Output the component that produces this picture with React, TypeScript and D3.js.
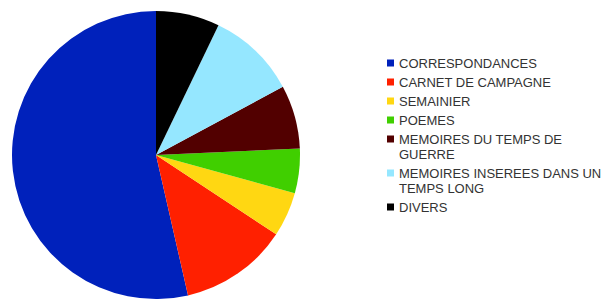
import React from "react";
import * as d3 from "d3";

const categories = [
  "CORRESPONDANCES",
  "CARNET DE CAMPAGNE",
  "SEMAINIER",
  "POEMES",
  "MEMOIRES DU TEMPS DE GUERRE",
  "MEMOIRES INSEREES DANS UN TEMPS LONG",
  "DIVERS",
];
const legendLines = [
  ["CORRESPONDANCES"],
  ["CARNET DE CAMPAGNE"],
  ["SEMAINIER"],
  ["POEMES"],
  ["MEMOIRES DU TEMPS DE", "GUERRE"],
  ["MEMOIRES INSEREES DANS UN", "TEMPS LONG"],
  ["DIVERS"],
];
const values = [75, 17, 7, 7, 10, 14, 10];
const colors = ["#0021bb", "#ff2000", "#ffd712", "#40cf00", "#520000", "#95e7ff", "#000000"];

export default function App() {
  const W = 604, H = 300;
  const cx = 156, cy = 155, r = 144;
  const pie = d3.pie<number>().sort(null).startAngle(0).endAngle(-2 * Math.PI);
  const arcs = pie(values);
  const arc = d3.arc<d3.PieArcDatum<number>>().innerRadius(0).outerRadius(r);

  let y = 63;
  const rows = legendLines.map((lines, i) => {
    const row = { i, lines, y };
    y += 19 + (lines.length - 1) * 15;
    return row;
  });

  return (
    <svg width={W} height={H} style={{ position: "absolute", left: 0, top: 0, background: "#fff" }}>
      <g transform={`translate(${cx},${cy})`}>
        {arcs.map((a, i) => (
          <path key={categories[i]} d={arc(a) || ""} fill={colors[i]} />
        ))}
      </g>
      <g fontFamily="'Liberation Sans', Arial, sans-serif" fontSize={13} fill="#333">
        {rows.map((row) => (
          <g key={row.i}>
            <rect x={387} y={row.y - 3.5} width={7} height={7} fill={colors[row.i]} />
            {row.lines.map((t, j) => (
              <text key={j} x={399} y={row.y + j * 15} dominantBaseline="central">
                {t}
              </text>
            ))}
          </g>
        ))}
      </g>
    </svg>
  );
}
